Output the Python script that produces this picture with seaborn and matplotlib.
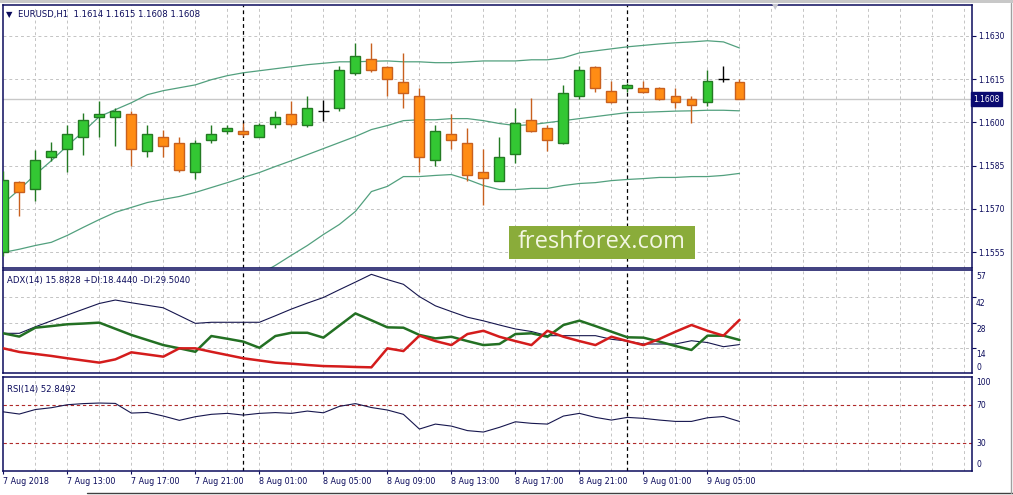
import numpy as np
import pandas as pd
import matplotlib
matplotlib.use("Agg")
import matplotlib.pyplot as plt
from matplotlib.patches import Rectangle
import seaborn as sns

# EURUSD H1 bars, 7 Aug 2018 09:00 .. 9 Aug 2018 07:00
opens = [1.15549, 1.15792, 1.15770, 1.15879, 1.15908, 1.15948, 1.16019, 1.16019, 1.16030, 1.15900,
         1.15950, 1.15929, 1.15827, 1.15938, 1.15969, 1.15971, 1.15948, 1.15996, 1.16030, 1.15992,
         1.16038, 1.16050, 1.16171, 1.16219, 1.16192, 1.16140, 1.16090, 1.15871, 1.15961, 1.15929,
         1.15828, 1.15798, 1.15891, 1.16009, 1.15981, 1.15929, 1.16090, 1.16192, 1.16110, 1.16119,
         1.16119, 1.16119, 1.16092, 1.16081, 1.16071, 1.16150, 1.16140]
highs = [1.15830, 1.15798, 1.15903, 1.15931, 1.15992, 1.16034, 1.16073, 1.16050, 1.16040, 1.15992,
         1.15972, 1.15950, 1.15940, 1.15992, 1.15992, 1.15998, 1.15998, 1.16040, 1.16073, 1.16092,
         1.16079, 1.16194, 1.16275, 1.16275, 1.16195, 1.16242, 1.16119, 1.15992, 1.16030, 1.15981,
         1.15908, 1.15950, 1.16050, 1.16084, 1.15992, 1.16130, 1.16194, 1.16195, 1.16142, 1.16136,
         1.16142, 1.16122, 1.16119, 1.16090, 1.16182, 1.16194, 1.16150]
lows = [1.15535, 1.15677, 1.15727, 1.15865, 1.15827, 1.15888, 1.15950, 1.15919, 1.15848, 1.15880,
        1.15880, 1.15827, 1.15805, 1.15929, 1.15961, 1.15954, 1.15948, 1.15981, 1.15989, 1.15985,
        1.16003, 1.16038, 1.16165, 1.16175, 1.16090, 1.16050, 1.15827, 1.15848, 1.15906, 1.15796,
        1.15715, 1.15795, 1.15860, 1.15965, 1.15900, 1.15925, 1.16081, 1.16107, 1.16068, 1.16107,
        1.16102, 1.16078, 1.16050, 1.15998, 1.16058, 1.16140, 1.16080]
closes = [1.15800, 1.15758, 1.15871, 1.15902, 1.15961, 1.16009, 1.16030, 1.16040, 1.15908, 1.15961,
          1.15917, 1.15836, 1.15929, 1.15961, 1.15981, 1.15960, 1.15992, 1.16019, 1.15996, 1.16050,
          1.16038, 1.16182, 1.16231, 1.16180, 1.16150, 1.16102, 1.15880, 1.15969, 1.15938, 1.15819,
          1.15808, 1.15880, 1.15998, 1.15969, 1.15938, 1.16102, 1.16182, 1.16119, 1.16071, 1.16130,
          1.16107, 1.16081, 1.16069, 1.16060, 1.16142, 1.16150, 1.16080]

# Bollinger bands
bb_upper = [1.15719, 1.15767, 1.15819, 1.15867, 1.15919, 1.15968, 1.16020, 1.16044, 1.16068, 1.16096,
            1.16110, 1.16120, 1.16130, 1.16148, 1.16162, 1.16172, 1.16179, 1.16186, 1.16193, 1.16200,
            1.16205, 1.16210, 1.16210, 1.16212, 1.16213, 1.16210, 1.16210, 1.16207, 1.16207, 1.16210,
            1.16213, 1.16213, 1.16213, 1.16217, 1.16217, 1.16224, 1.16241, 1.16248, 1.16255, 1.16262,
            1.16267, 1.16272, 1.16276, 1.16279, 1.16283, 1.16279, 1.16258]
bb_middle = [1.15549, 1.15560, 1.15573, 1.15584, 1.15608, 1.15636, 1.15663, 1.15688, 1.15705, 1.15722,
             1.15733, 1.15743, 1.15757, 1.15774, 1.15791, 1.15809, 1.15826, 1.15847, 1.15867, 1.15888,
             1.15909, 1.15930, 1.15951, 1.15975, 1.15989, 1.16006, 1.16009, 1.16009, 1.16013, 1.16013,
             1.16006, 1.15996, 1.15989, 1.15992, 1.15999, 1.16006, 1.16013, 1.16020, 1.16027, 1.16034,
             1.16035, 1.16037, 1.16039, 1.16040, 1.16042, 1.16042, 1.16040]
bb_lower = [1.15380, 1.15352, 1.15328, 1.15300, 1.15297, 1.15304, 1.15307, 1.15331, 1.15342, 1.15348,
            1.15355, 1.15366, 1.15383, 1.15400, 1.15421, 1.15445, 1.15473, 1.15504, 1.15539, 1.15573,
            1.15611, 1.15646, 1.15691, 1.15760, 1.15778, 1.15812, 1.15812, 1.15816, 1.15819, 1.15802,
            1.15781, 1.15767, 1.15767, 1.15771, 1.15771, 1.15781, 1.15788, 1.15791, 1.15798, 1.15802,
            1.15805, 1.15809, 1.15809, 1.15812, 1.15812, 1.15816, 1.15823]

# ADX(14)
adx = [22.1, 22.1, 25.7, 29.0, 32.2, 35.4, 38.6, 40.5, 39.0, 37.6,
       36.2, 31.9, 27.6, 28.2, 28.2, 28.2, 28.2, 31.8, 35.5, 38.8,
       41.9, 46.2, 50.4, 54.7, 51.8, 49.2, 42.4, 37.3, 34.1, 31.0,
       29.0, 26.7, 24.5, 23.1, 20.8, 20.8, 20.8, 20.8, 18.8, 17.8,
       16.2, 16.2, 16.2, 18.0, 17.0, 14.7, 15.88]
plus_di = [22.1, 20.3, 25.2, 26.1, 27.1, 27.5, 28.0, 24.6, 21.2, 18.4,
           15.6, 13.8, 11.9, 20.6, 19.1, 17.5, 14.1, 20.6, 22.4, 22.4,
           19.7, 26.4, 33.1, 29.3, 25.4, 25.2, 21.2, 19.3, 20.2, 17.8,
           15.6, 16.2, 21.7, 22.1, 20.2, 26.7, 29.1, 26.1, 23.0, 19.9,
           19.7, 17.5, 15.1, 12.9, 20.8, 20.8, 18.44]
minus_di = [13.8, 11.8, 10.7, 9.6, 8.3, 7.1, 5.9, 7.7, 11.6, 10.4,
            9.2, 13.8, 13.8, 11.9, 10.1, 8.3, 7.1, 5.9, 5.3, 4.6,
            4.0, 3.8, 3.5, 3.3, 13.8, 12.3, 20.8, 17.8, 15.6, 21.7,
            23.5, 20.2, 17.8, 15.6, 23.5, 20.2, 17.8, 15.6, 20.2, 17.8,
            15.6, 19.0, 23.0, 26.7, 23.5, 20.8, 29.5]

# RSI(14)
rsi = [62.9, 60.6, 65.3, 67.2, 70.3, 71.5, 72.1, 71.7, 61.6, 62.3,
       58.5, 54.0, 57.8, 60.3, 61.3, 59.5, 61.3, 62.1, 61.3, 63.7,
       61.9, 68.6, 71.5, 67.4, 64.8, 60.3, 44.9, 50.1, 48.0, 43.3,
       41.8, 46.7, 52.5, 50.9, 50.1, 58.5, 61.3, 57.1, 54.3, 57.1,
       56.1, 54.3, 52.9, 52.9, 56.7, 58.0, 52.85]

price_ticks = [1.1555, 1.1570, 1.1585, 1.1600, 1.1615, 1.1630]
time_tick_bars = [0, 4, 8, 12, 16, 20, 24, 28, 32, 36, 40, 44]
time_tick_labels = ["7 Aug 2018", "7 Aug 13:00", "7 Aug 17:00", "7 Aug 21:00",
                    "8 Aug 01:00", "8 Aug 05:00", "8 Aug 09:00", "8 Aug 13:00",
                    "8 Aug 17:00", "8 Aug 21:00", "9 Aug 01:00", "9 Aug 05:00"]
day_separators = [15, 39]

sns.set_style("white")
plt.rcParams['font.family'] = ['DejaVu Sans']

NAVY = "#0b0b5c"
GRID = "#c4c4c4"
XLIM = (-0.05, 60.51)
bars = np.arange(len(opens))

fig = plt.figure(figsize=(10.13, 4.95), dpi=100)
W, H = 1013.0, 495.0


def panel(y_top, y_bot):
    x0, x1 = 2.5, 971.7
    ax = fig.add_axes([x0 / W, 1 - y_bot / H, (x1 - x0) / W, (y_bot - y_top) / H])
    ax.set_xlim(*XLIM)
    for s in ax.spines.values():
        s.set_color(NAVY)
        s.set_linewidth(1.1)
    ax.set_xticks([])
    ax.yaxis.tick_right()
    ax.tick_params(axis="y", direction="out", length=3, width=0.8, color=NAVY,
                   labelcolor=NAVY, labelsize=5.5, pad=2)
    for b in range(2, 61, 2):
        ax.axvline(b, color=GRID, lw=0.7, ls=(0, (3, 3)), zorder=0)
    for b in day_separators:
        ax.axvline(b, color="black", lw=0.9, ls=(0, (3, 2.5)), zorder=1)
    return ax


# ---------------- main price panel ----------------
ax = panel(5, 267.7)
ax.set_ylim(1.15496, 1.16407)
for p in price_ticks:
    ax.axhline(p, color=GRID, lw=0.7, ls=(0, (3, 3)), zorder=0)
ax.axhline(closes[-1], color="#c8c8c8", lw=1.0, zorder=0)
ax.set_yticks(price_ticks)
ax.set_yticklabels([f"{p:.4f}" for p in price_ticks])

df_bb = pd.DataFrame({"bar": bars, "upper": bb_upper, "middle": bb_middle, "lower": bb_lower})
for col in ["upper", "middle", "lower"]:
    sns.lineplot(data=df_bb, x="bar", y=col, ax=ax, color="#52a07e", lw=0.9, zorder=2)

up_fill, up_edge = "#33c733", "#237a23"
dn_fill, dn_edge = "#ff8c14", "#c8601e"
for i in bars:
    o, h, l, c = opens[i], highs[i], lows[i], closes[i]
    if c > o:
        ax.vlines(i, l, h, color=up_edge, lw=1.0, zorder=3)
        ax.bar(i, c - o, bottom=o, width=0.62, color=up_fill, edgecolor=up_edge, lw=1.0, zorder=4)
    elif c < o:
        ax.vlines(i, l, h, color=dn_edge, lw=1.0, zorder=3)
        ax.bar(i, o - c, bottom=c, width=0.62, color=dn_fill, edgecolor=dn_edge, lw=1.0, zorder=4)
    else:
        ax.vlines(i, l, h, color="black", lw=1.0, zorder=3)
        ax.hlines(o, i - 0.34, i + 0.34, color="black", lw=1.0, zorder=4)
ax.set_xlabel("")
ax.set_ylabel("")

ax.text(0.0160, 0.962, "EURUSD,H1  1.1614 1.1615 1.1608 1.1608", transform=ax.transAxes,
        fontsize=6.1, color=NAVY, va="center", ha="left")
ax.text(0.0040, 0.962, "\u25bc", transform=ax.transAxes, fontsize=6, color=NAVY,
        va="center", ha="left")
ax.text(1.0018, closes[-1], "1.1608", transform=ax.get_yaxis_transform(), fontsize=5.5,
        color="white", va="center", ha="left",
        bbox=dict(boxstyle="square,pad=0.35", fc="#0a0a70", ec="#0a0a70"))

# ---------------- ADX panel ----------------
ax2 = panel(270, 373.3)
ax2.set_ylim(0, 57.1)
for v in [14, 28, 42]:
    ax2.axhline(v, color=GRID, lw=0.7, ls=(0, (3, 3)), zorder=0)
ax2.set_yticks([14, 28, 42])
ax2.set_yticklabels([])
ytr = ax2.get_yaxis_transform()
for v, lab, va in [(57.1, "57", "top"), (42, "42", "top"), (28, "28", "top"),
                   (14, "14", "top"), (0, "0", "bottom")]:
    ax2.text(1.0045, v - (1.2 if va == "top" else -0.8), lab, transform=ytr,
             fontsize=5.5, color=NAVY, va=va, ha="left")
df_adx = pd.DataFrame({"bar": bars, "adx": adx, "pdi": plus_di, "mdi": minus_di})
sns.lineplot(data=df_adx, x="bar", y="adx", ax=ax2, color="#16164e", lw=0.8, zorder=3)
sns.lineplot(data=df_adx, x="bar", y="pdi", ax=ax2, color="#237023", lw=1.8, zorder=3)
sns.lineplot(data=df_adx, x="bar", y="mdi", ax=ax2, color="#d41c1c", lw=1.8, zorder=3)
ax2.set_xlabel("")
ax2.set_ylabel("")
ax2.set_xlim(*XLIM)
ax2.text(0.0045, 0.9, "ADX(14) 15.8828 +DI:18.4440 -DI:29.5040", transform=ax2.transAxes,
         fontsize=6.1, color=NAVY, va="center", ha="left")

# ---------------- RSI panel ----------------
ax3 = panel(376.7, 471)
ax3.set_ylim(1.1, 99.6)
for v in [70, 30]:
    ax3.axhline(v, color="#b02a2a", lw=0.8, ls=(0, (3, 2.5)), zorder=1)
ax3.set_yticks([])
ytr3 = ax3.get_yaxis_transform()
for v, lab, va in [(99.6, "100", "top"), (70, "70", "center"), (30, "30", "center"),
                   (1.1, "0", "bottom")]:
    ax3.text(1.0045, v - (1.5 if va == "top" else (-2 if va == "bottom" else 0)), lab,
             transform=ytr3, fontsize=5.5, color=NAVY, va=va, ha="left")
df_rsi = pd.DataFrame({"bar": bars, "rsi": rsi})
sns.lineplot(data=df_rsi, x="bar", y="rsi", ax=ax3, color="#16164e", lw=0.8, zorder=3)
ax3.set_xlabel("")
ax3.set_ylabel("")
ax3.set_xlim(*XLIM)
ax3.text(0.0045, 0.86, "RSI(14) 52.8492", transform=ax3.transAxes,
         fontsize=6.1, color=NAVY, va="center", ha="left")
ax3.set_xticks(time_tick_bars)
ax3.set_xticklabels(time_tick_labels, ha="left")
ax3.tick_params(axis="x", direction="out", length=2.5, width=0.8, color=NAVY,
                labelcolor=NAVY, labelsize=5.8, pad=1.5, bottom=True)

# ---------------- watermark and window frame ----------------
fig.patches.append(Rectangle((509 / W, 1 - 259 / H), 186 / W, 33 / H, transform=fig.transFigure,
                             fc="#8aac3a", ec="none", zorder=10))
fig.text(602 / W, 1 - 242.5 / H, "freshforex.com", fontsize=17, family="Open Sans",
         color="#f3f6e2", ha="center", va="center", zorder=11)
fig.patches.append(Rectangle((0, 1 - 2.5 / H), 1, 2.5 / H, transform=fig.transFigure,
                             fc="#c8c8c8", ec="none"))
fig.lines.append(plt.Line2D([87 / W, 1], [1 - 492.5 / H] * 2, transform=fig.transFigure,
                            color="#404040", lw=1.0))
fig.lines.append(plt.Line2D([1011 / W] * 2, [1 - 492.5 / H, 1 - 2.5 / H], transform=fig.transFigure,
                            color="#a0a0a0", lw=1.0))
fig.text(775 / W, 1 - 7 / H, "\u25bc", fontsize=6, color="#c8c8d0", ha="center", va="center")

fig.savefig("out.png", dpi=100)
